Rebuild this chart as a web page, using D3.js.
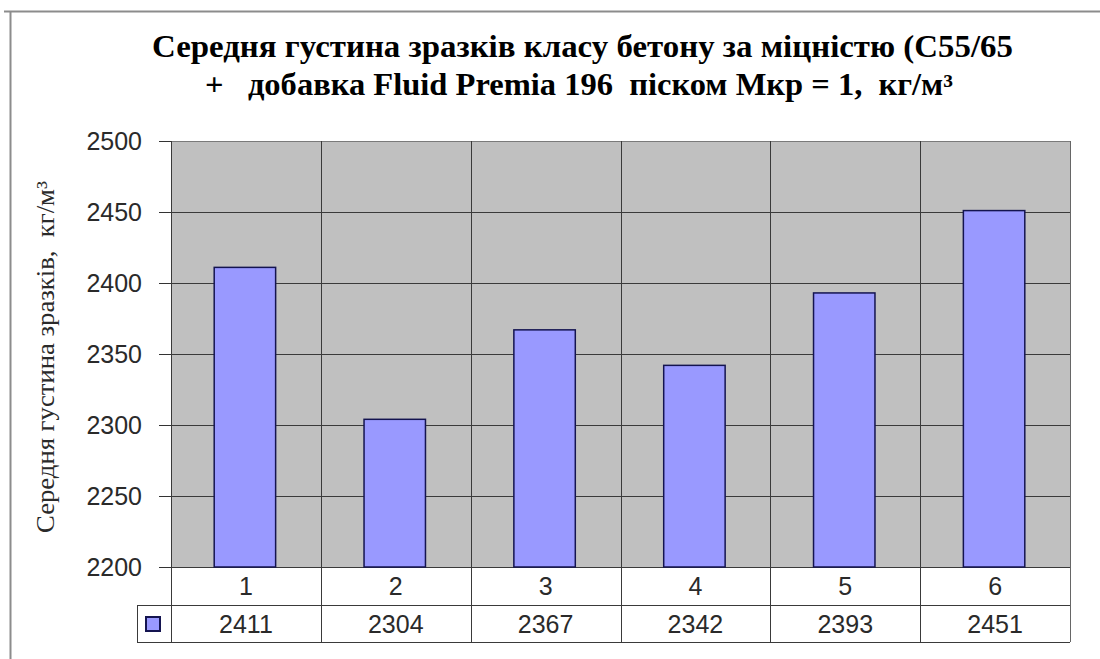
<!DOCTYPE html>
<html>
<head>
<meta charset="utf-8">
<script src="https://cdn.jsdelivr.net/npm/d3@7"></script>
<style>
  html, body { margin: 0; padding: 0; background: #fff; }
  svg { display: block; }
  text { white-space: pre; }
</style>
</head>
<body>
<svg id="chart" width="1100" height="659"></svg>
<script>
// Density of concrete samples by sample number
const categories = ["1", "2", "3", "4", "5", "6"];
const densities = [2411, 2304, 2367, 2342, 2393, 2451];
const yTicks = [2200, 2250, 2300, 2350, 2400, 2450, 2500];
const titleLines = [
  "Середня густина зразків класу бетону за міцністю (С55/65",
  "+   добавка Fluid Premia 196  піском Мкр = 1,  кг/м³"
];
const yAxisTitle = "Середня густина зразків,  кг/м³";

const svg = d3.select("#chart");
const plot = { left: 171, right: 1070, top: 141, bottom: 567 };
const table = { row1: 605, row2: 642, keyLeft: 137 };
const sans = "Arial, 'Liberation Sans', sans-serif";
const serif = "'Times New Roman', 'Liberation Serif', serif";

const x = d3.scaleBand().domain(categories).range([plot.left, plot.right]).padding(0);
const y = d3.scaleLinear().domain([2200, 2500]).range([plot.bottom, plot.top]);

// outer chart frame (top and left edges visible)
svg.append("path")
  .attr("d", "M4,11.5 H1100 M10.5,11 V659")
  .attr("stroke", "#8c8c8c").attr("stroke-width", 2).attr("fill", "none");

// title
const titleGeom = [
  { x: 152, y: 57, w: 861 },
  { x: 205, y: 95, w: 748 }
];
svg.append("g").selectAll("text").data(titleLines).join("text")
  .attr("x", (d, i) => titleGeom[i].x)
  .attr("y", (d, i) => titleGeom[i].y)
  .attr("font-family", serif)
  .attr("font-weight", "bold")
  .attr("font-size", 31)
  .attr("textLength", (d, i) => titleGeom[i].w)
  .attr("lengthAdjust", "spacingAndGlyphs")
  .attr("fill", "#000")
  .text(d => d);

// plot background
svg.append("rect")
  .attr("x", plot.left).attr("y", plot.top)
  .attr("width", plot.right - plot.left).attr("height", plot.bottom - plot.top)
  .attr("fill", "#c0c0c0");

// horizontal gridlines
svg.append("g").selectAll("line").data(yTicks).join("line")
  .attr("x1", plot.left).attr("x2", plot.right)
  .attr("y1", d => Math.round(y(d)) + 0.5).attr("y2", d => Math.round(y(d)) + 0.5)
  .attr("stroke", d => d === 2500 ? "#7a7a7a" : "#3a3a3a").attr("stroke-width", 1);

// vertical category dividers through plot and table
const dividers = categories.map(c => x(c)).concat([plot.right]);
svg.append("g").selectAll("line").data(dividers).join("line")
  .attr("x1", d => Math.round(d) + 0.5).attr("x2", d => Math.round(d) + 0.5)
  .attr("y1", plot.top).attr("y2", table.row2)
  .attr("stroke", (d, i) => i === dividers.length - 1 ? "#666" : "#3a3a3a")
  .attr("stroke-width", 1);

// bars
const barW = x.bandwidth() * 0.41;
svg.append("g").selectAll("rect").data(densities).join("rect")
  .attr("x", (d, i) => x(categories[i]) + (x.bandwidth() - barW) / 2 - 1)
  .attr("y", d => y(d))
  .attr("width", barW)
  .attr("height", d => y(2200) - y(d))
  .attr("fill", "#9999ff")
  .attr("stroke", "#141450")
  .attr("stroke-width", 1.5);

// y axis ticks and labels
const yAxis = d3.axisLeft(y).tickValues(yTicks).tickSize(12).tickPadding(17).tickFormat(d3.format("d"));
const gy = svg.append("g").attr("transform", `translate(${plot.left},0)`).call(yAxis);
gy.select(".domain").remove();
gy.selectAll(".tick line").attr("stroke", "#333");
gy.selectAll(".tick text")
  .attr("font-family", sans)
  .attr("font-size", 25).attr("fill", "#2a2a2a");

// y axis title
svg.append("text")
  .attr("transform", "translate(54,357) rotate(-90)")
  .attr("text-anchor", "middle")
  .attr("font-family", serif)
  .attr("font-size", 25)
  .attr("textLength", 352)
  .attr("lengthAdjust", "spacingAndGlyphs")
  .attr("fill", "#2a2a2a")
  .text(yAxisTitle);

// data table grid
const tg = svg.append("g").attr("stroke", "#3a3a3a").attr("stroke-width", 1);
tg.append("line").attr("x1", table.keyLeft).attr("x2", plot.right)
  .attr("y1", table.row1 + 0.5).attr("y2", table.row1 + 0.5);
tg.append("line").attr("x1", table.keyLeft).attr("x2", plot.right)
  .attr("y1", table.row2 + 0.5).attr("y2", table.row2 + 0.5);
tg.append("line").attr("x1", table.keyLeft + 0.5).attr("x2", table.keyLeft + 0.5)
  .attr("y1", table.row1).attr("y2", table.row2);

// category labels row
svg.append("g").selectAll("text").data(categories).join("text")
  .attr("x", d => x(d) + x.bandwidth() / 2)
  .attr("y", (plot.bottom + table.row1) / 2)
  .attr("dy", "0.36em")
  .attr("text-anchor", "middle")
  .attr("font-family", sans)
  .attr("font-size", 25).attr("fill", "#2a2a2a")
  .text(d => d);

// values row
svg.append("g").selectAll("text").data(densities).join("text")
  .attr("x", (d, i) => x(categories[i]) + x.bandwidth() / 2)
  .attr("y", (table.row1 + table.row2) / 2)
  .attr("dy", "0.36em")
  .attr("text-anchor", "middle")
  .attr("font-family", sans)
  .attr("font-size", 25).attr("fill", "#2a2a2a")
  .text(d => d);

// legend key
svg.append("rect")
  .attr("x", 146).attr("y", 617).attr("width", 14).attr("height", 14)
  .attr("fill", "#9999ff").attr("stroke", "#141450").attr("stroke-width", 2);
</script>
</body>
</html>
